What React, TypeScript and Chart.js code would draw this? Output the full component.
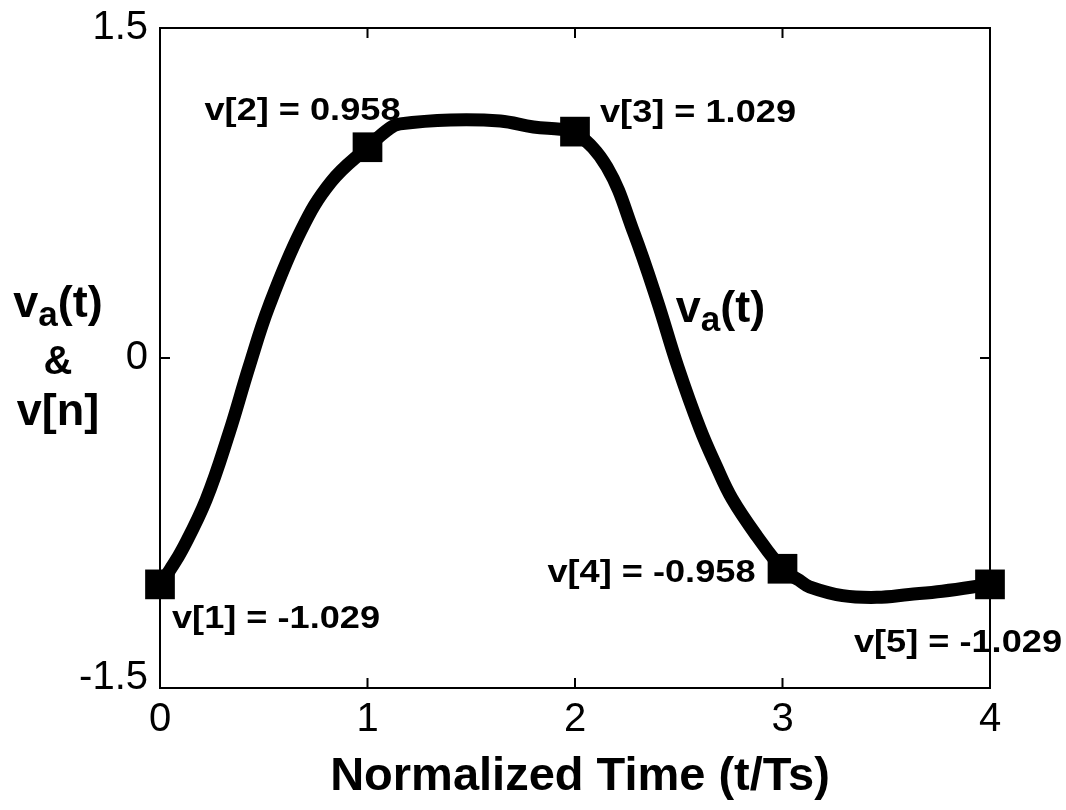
import React, { useEffect, useRef } from "react";
import { Chart, registerables } from "chart.js";

Chart.register(...registerables);

// Continuous signal va(t)
const curveT = [0, 0.05, 0.106, 0.222, 0.333, 0.429, 0.525, 0.68, 0.824, 1.0, 1.108, 1.157, 1.4, 1.64, 1.8, 1.93, 2.0, 2.154, 2.284, 2.395, 2.496, 2.602, 2.68, 2.757, 2.877, 3.0, 3.08, 3.13, 3.29, 3.455, 3.61, 3.77, 4.0];
const curveV = [-1.029, -0.96, -0.873, -0.645, -0.341, -0.041, 0.235, 0.58, 0.80, 0.958, 1.045, 1.064, 1.082, 1.077, 1.05, 1.04, 1.029, 0.868, 0.568, 0.264, -0.041, -0.32, -0.49, -0.64, -0.81, -0.958, -1.01, -1.04, -1.08, -1.088, -1.075, -1.06, -1.029];

// Samples v[n]
const sampleT = [0, 1, 2, 3, 4];
const sampleV = [-1.029, 0.958, 1.029, -0.958, -1.029];
const sampleLabels = ["v[1] = -1.029", "v[2] = 0.958", "v[3] = 1.029", "v[4] = -0.958", "v[5] = -1.029"];

// Axes
const xTicks = [0, 1, 2, 3, 4];
const yTicks = [-1.5, 0, 1.5];
const xTitle = "Normalized Time (t/Ts)";
const curveLabel = ["v", "a", "(t)"];
const yTitleLines = ["&", "v[n]"];

// Styling (label placements relative to the marker)
const labelPlacement: { dx: number; dy: number; align: "left" | "right" }[] = [
  { dx: 12, dy: 44, align: "left" },
  { dx: 33, dy: -27, align: "right" },
  { dx: 25, dy: -10, align: "left" },
  { dx: -27, dy: 13, align: "right" },
  { dx: 72, dy: 68, align: "right" },
];

const FAMILY = '"Liberation Sans", Arial, Helvetica, sans-serif';

function drawStretched(ctx: CanvasRenderingContext2D, text: string, x: number, y: number, align: "left" | "right", sx: number) {
  const w = ctx.measureText(text).width * sx;
  const left = align === "left" ? x : x - w;
  ctx.save();
  ctx.translate(left, y);
  ctx.scale(sx, 1);
  ctx.textAlign = "left";
  ctx.fillText(text, 0, 0);
  ctx.restore();
}

function subWidth(ctx: CanvasRenderingContext2D, big: number, small: number) {
  ctx.font = `bold ${big}px ${FAMILY}`;
  const w1 = ctx.measureText(curveLabel[0]).width;
  const w3 = ctx.measureText(curveLabel[2]).width;
  ctx.font = `bold ${small}px ${FAMILY}`;
  const w2 = ctx.measureText(curveLabel[1]).width;
  return w1 + w2 + w3;
}

function drawSub(ctx: CanvasRenderingContext2D, left: number, baseline: number, big: number, small: number, drop: number) {
  ctx.textAlign = "left";
  ctx.textBaseline = "alphabetic";
  ctx.font = `bold ${big}px ${FAMILY}`;
  ctx.fillText(curveLabel[0], left, baseline);
  let x = left + ctx.measureText(curveLabel[0]).width;
  ctx.font = `bold ${small}px ${FAMILY}`;
  ctx.fillText(curveLabel[1], x, baseline + drop);
  x += ctx.measureText(curveLabel[1]).width;
  ctx.font = `bold ${big}px ${FAMILY}`;
  ctx.fillText(curveLabel[2], x, baseline);
}

const decorPlugin = {
  id: "decor",
  beforeDatasetsDraw(chart: any) {
    const { ctx, chartArea: ca, scales } = chart;
    ctx.save();
    ctx.strokeStyle = "#000";
    ctx.lineWidth = 2;
    ctx.strokeRect(ca.left, ca.top, ca.right - ca.left, ca.bottom - ca.top);
    ctx.beginPath();
    xTicks.forEach((v) => {
      const px = scales.x.getPixelForValue(v);
      ctx.moveTo(px, ca.bottom);
      ctx.lineTo(px, ca.bottom - 10);
      ctx.moveTo(px, ca.top);
      ctx.lineTo(px, ca.top + 10);
    });
    yTicks.forEach((v) => {
      const py = scales.y.getPixelForValue(v);
      ctx.moveTo(ca.left, py);
      ctx.lineTo(ca.left + 10, py);
      ctx.moveTo(ca.right, py);
      ctx.lineTo(ca.right - 10, py);
    });
    ctx.stroke();

    // sample annotations
    ctx.fillStyle = "#000";
    ctx.textBaseline = "alphabetic";
    ctx.font = `bold 32px ${FAMILY}`;
    sampleLabels.forEach((lab, i) => {
      const px = scales.x.getPixelForValue(sampleT[i]);
      const py = scales.y.getPixelForValue(sampleV[i]);
      const p = labelPlacement[i];
      drawStretched(ctx, lab, px + p.dx, py + p.dy, p.align, 1.13);
    });

    // curve label inside the plot
    const lx = scales.x.getPixelForValue(2.5);
    const ly = scales.y.getPixelForValue(0);
    drawSub(ctx, lx - 3, ly - 36, 45, 35, 9);
    ctx.restore();
  },
  afterDraw(chart: any) {
    const { ctx, chartArea: ca, scales } = chart;
    ctx.save();
    ctx.fillStyle = "#000";
    // y title
    const cx = 58;
    const y0 = scales.y.getPixelForValue(0);
    const w = subWidth(ctx, 45, 35);
    drawSub(ctx, cx - w / 2, y0 - 41, 45, 35, 9);
    ctx.textAlign = "center";
    ctx.font = `bold 40px ${FAMILY}`;
    ctx.fillText(yTitleLines[0], cx, y0 + 16);
    ctx.font = `bold 45px ${FAMILY}`;
    ctx.fillText(yTitleLines[1], cx, y0 + 67);
    // x title
    ctx.font = `bold 47px ${FAMILY}`;
    ctx.textAlign = "center";
    ctx.fillText(xTitle, (ca.left + ca.right) / 2 + 5, ca.bottom + 102);
    ctx.restore();
  },
};

export default function App() {
  const ref = useRef<HTMLCanvasElement | null>(null);
  useEffect(() => {
    if (!ref.current) return;
    const chart = new Chart(ref.current, {
      type: "line",
      data: {
        datasets: [
          {
            label: "v[n]",
            data: sampleT.map((t, i) => ({ x: t, y: sampleV[i] })),
            showLine: false,
            pointStyle: "rect",
            pointRadius: 21,
            pointHoverRadius: 21,
            pointBackgroundColor: "#000",
            pointBorderColor: "#000",
            pointBorderWidth: 0,
            clip: false,
            order: 0,
          } as any,
          {
            label: "va(t)",
            data: curveT.map((t, i) => ({ x: t, y: curveV[i] })),
            borderColor: "#000",
            borderWidth: 13,
            borderJoinStyle: "round",
            borderCapStyle: "round",
            pointRadius: 0,
            pointHoverRadius: 0,
            tension: 0.4,
            fill: false,
            clip: false,
            order: 1,
          } as any,
        ],
      },
      options: {
        responsive: false,
        animation: false,
        events: [],
        layout: { padding: { top: 28, right: 76, left: 0, bottom: 0 } },
        plugins: { legend: { display: false }, tooltip: { enabled: false }, title: { display: false } },
        scales: {
          x: {
            type: "linear",
            min: 0,
            max: 4,
            afterBuildTicks: (s: any) => {
              s.ticks = xTicks.map((v) => ({ value: v }));
            },
            afterFit: (s: any) => {
              s.height = 122;
              s.paddingLeft = 0;
              s.paddingRight = 0;
            },
            ticks: {
              font: { family: FAMILY, size: 40 },
              color: "#000",
              padding: 8,
              maxRotation: 0,
              autoSkip: false,
              callback: (v: any) => String(v),
            },
            grid: { display: false, drawTicks: false },
            border: { display: false },
          },
          y: {
            type: "linear",
            min: -1.5,
            max: 1.5,
            afterBuildTicks: (s: any) => {
              s.ticks = yTicks.map((v) => ({ value: v }));
            },
            afterFit: (s: any) => {
              s.width = 160;
              s.paddingTop = 0;
              s.paddingBottom = 0;
            },
            ticks: {
              font: (c: any) =>
                c.tick && c.tick.value === yTicks[0]
                  ? { family: FAMILY, size: 40, lineHeight: 0.5 }
                  : { family: FAMILY, size: 40 },
              color: "#000",
              padding: 12,
              autoSkip: false,
              callback: (v: any) => (v === yTicks[0] ? [String(v), ""] : String(v)),
            },
            grid: { display: false, drawTicks: false },
            border: { display: false },
          },
        },
      },
      plugins: [decorPlugin],
    } as any);
    return () => chart.destroy();
  }, []);
  return (
    <div style={{ position: "fixed", left: 0, top: 0, width: 1066, height: 810, background: "#fff" }}>
      <canvas ref={ref} width={1066} height={810} style={{ width: 1066, height: 810, display: "block" }} />
    </div>
  );
}
